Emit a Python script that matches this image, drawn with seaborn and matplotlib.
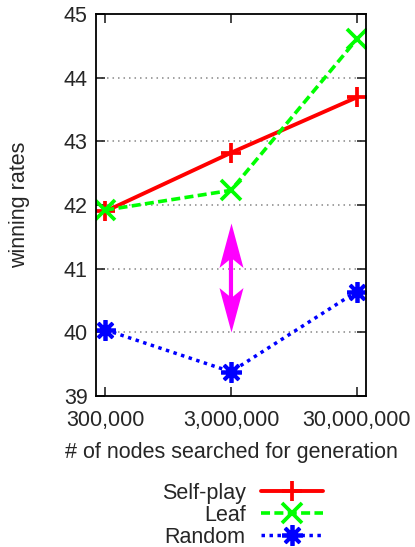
import numpy as np
import pandas as pd
import matplotlib
matplotlib.use("Agg")
import matplotlib.pyplot as plt
from matplotlib.path import Path
import seaborn as sns

# data
nodes = [300000, 3000000, 30000000]
node_labels = ["300,000", "3,000,000", "30,000,000"]
self_play = [41.90, 42.82, 43.69]
leaf = [41.92, 42.23, 44.60]
random_init = [40.04, 39.38, 40.64]
arrow_x = 3000000
arrow_range = (40.01, 41.72)

sns.set_style("ticks")
plt.rcParams["font.family"] = ["Liberation Sans", "DejaVu Sans"]
plt.rcParams["font.size"] = 15.5

fig = plt.figure(figsize=(4.15, 5.47), dpi=100)
ax = fig.add_axes([0.2313, 0.2761, 0.6506, 0.6983])

df = pd.DataFrame({"nodes": nodes, "Self-play": self_play, "Leaf": leaf, "Random": random_init})

sns.lineplot(data=df, x="nodes", y="Self-play", ax=ax, color="#ff0000", linestyle="-",
             linewidth=2.8, marker="+", markersize=15, markeredgewidth=2.7,
             markeredgecolor="#ff0000", label="Self-play")
sns.lineplot(data=df, x="nodes", y="Leaf", ax=ax, color="#00ff00", linestyle=(0, (2.5, 1.2)),
             dash_capstyle="butt", linewidth=2.6, marker="x", markersize=15, markeredgewidth=2.7,
             markeredgecolor="#00ff00", label="Leaf")
sns.lineplot(data=df, x="nodes", y="Random", ax=ax, color="#0000ff", linestyle=(0, (1, 1.3)),
             dash_capstyle="butt", linewidth=2.5, marker=(8, 2, 0), markersize=15,
             markeredgewidth=2.7, markeredgecolor="#0000ff", label="Random")

# double-headed magenta arrow: shaft + notched heads drawn as markers
head_up = Path([(0, 0), (-0.27, -1), (0, -0.78), (0.27, -1), (0, 0)],
               [Path.MOVETO, Path.LINETO, Path.LINETO, Path.LINETO, Path.CLOSEPOLY])
head_down = Path([(0, 0), (-0.27, 1), (0, 0.78), (0.27, 1), (0, 0)],
                 [Path.MOVETO, Path.LINETO, Path.LINETO, Path.LINETO, Path.CLOSEPOLY])
ax.annotate("", xy=(arrow_x, arrow_range[1]), xytext=(arrow_x, arrow_range[0]),
            arrowprops=dict(arrowstyle="-", color="#ff00ff", lw=3, shrinkA=20, shrinkB=20),
            zorder=3)
ax.plot([arrow_x], [arrow_range[1]], marker=head_up, markersize=64, color="#ff00ff",
        markeredgewidth=0, linestyle="none", zorder=4)
ax.plot([arrow_x], [arrow_range[0]], marker=head_down, markersize=64, color="#ff00ff",
        markeredgewidth=0, linestyle="none", zorder=4)

ax.set_xscale("log")
ax.set_xlim(253000, 35600000)
ax.set_ylim(39, 45)
ax.set_xticks(nodes)
ax.set_xticklabels(node_labels)
ax.xaxis.set_minor_locator(matplotlib.ticker.NullLocator())
ax.set_yticks(range(39, 46))
ax.tick_params(direction="in", length=6.5, width=1.2, top=True, right=True, labelsize=15.5)
ax.tick_params(axis="x", pad=10)
ax.tick_params(axis="y", pad=6)
for s in ax.spines.values():
    s.set_linewidth(1.3)
    s.set_color("black")
for y in range(40, 45):
    ax.axhline(y, color="#888888", linestyle=(0, (1, 2.6)), linewidth=1.1, zorder=0)

ax.set_xlabel("# of nodes searched for generation", fontsize=15.5, labelpad=8)
ax.set_ylabel("winning rates", fontsize=15.5, labelpad=24)

ax.get_legend().remove()
handles, labels = ax.get_legend_handles_labels()
fig.legend(handles, labels, loc="center", bbox_to_anchor=(0.584, 0.058), markerfirst=False,
           frameon=False, fontsize=15.5, handlelength=2.9, handletextpad=0.7,
           labelspacing=0.05, borderpad=0)

fig.savefig("out.png", dpi=100)
